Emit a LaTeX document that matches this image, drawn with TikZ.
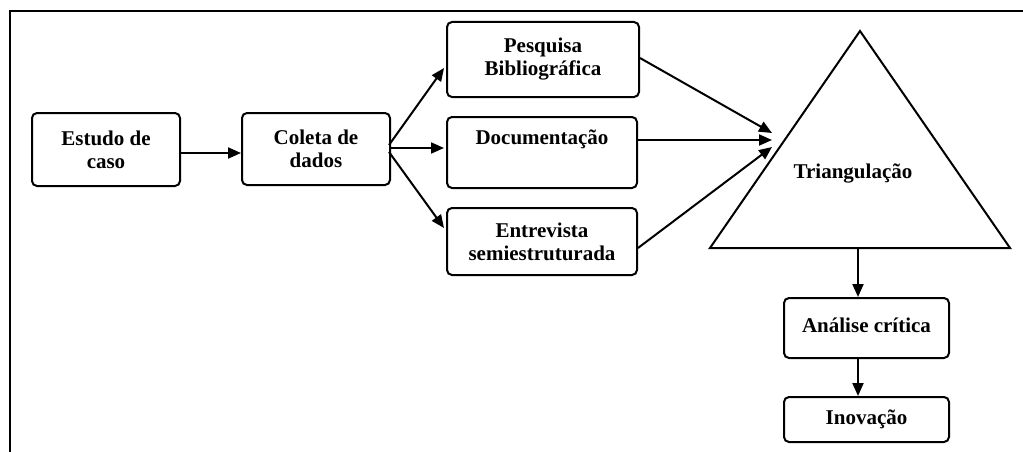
\documentclass[tikz,border=0pt]{standalone}
\usepackage{fontspec}
\setmainfont{Liberation Serif}
\usetikzlibrary{arrows.meta,calc}
\begin{document}
\begin{tikzpicture}[x=1pt,y=-1pt,
  box/.style={draw,line width=2pt,rounded corners=5pt,inner sep=0pt,align=center,
    font=\fontsize{21}{23}\selectfont\bfseries},
  arr/.style={line width=2pt,-{Triangle[length=13pt,width=11pt]}},
  frame/.style={line width=2pt}]
\useasboundingbox (0,0) rectangle (1023,452);
% frame
\coordinate (fa) at (9,11);
\coordinate (fb) at (1023,11);
\coordinate (fc) at (10,452);
\draw[frame] (fb) -- (fa |- fb) -- (10,11) -- (fc);
% boxes
\node[box,minimum width=148pt,minimum height=73pt] (estudo) at (106,149.5) {Estudo de\\caso};
\node[box,minimum width=148pt,minimum height=72pt] (coleta) at (316,149) {Coleta de\\dados};
\node[box,minimum width=192pt,minimum height=75pt] (pesq) at (543,59.5) {Pesquisa\\Bibliográfica};
\node[box,minimum width=190pt,minimum height=71pt] (doc) at (542,152.5) {Documentação\\\strut};
\node[box,minimum width=190pt,minimum height=67pt] (entr) at (542,241.5) {Entrevista\\semiestruturada};
\node[box,minimum width=165pt,minimum height=60pt] (anal) at (866.5,328) {\raisebox{5pt}{Análise crítica}};
\node[box,minimum width=165pt,minimum height=45pt] (inov) at (866.5,419.5) {Inovação};
% triangle
\coordinate (tl) at (710,248);
\coordinate (ta) at (860,31);
\coordinate (tr) at (1010,248);
\draw[line width=2pt,line join=miter] (tl) -- (ta) -- (tr) -- cycle;
\node[font=\fontsize{21}{23}\selectfont\bfseries] (tri) at (853,174) {Triangulação};
\coordinate (t1) at (772,133);
\coordinate (t2) at (772,140);
\coordinate (t3) at (772,147);
\coordinate (tb) at (858,248);
% arrows
\draw[arr] ($(estudo.east)+(0,3.5)$) -- ($(coleta.west)+(0,4)$);
\draw[arr] ($(coleta.east)+(-2,-4)$) -- ($(pesq.west)+(-2,8.5)$);
\draw[arr] ($(coleta.east)+(-2,-1)$) -- ($(doc.west)+(-2,-4.5)$);
\draw[arr] ($(coleta.east)+(-2,3)$) -- ($(entr.west)+(-2,-13.5)$);
\draw[arr] ($(pesq.east)+(0,-1.5)$) -- (t1);
\draw[arr] ($(doc.east)+(0,-12.5)$) -- (t2);
\draw[arr] ($(entr.east)+(0,6.5)$) -- (t3);
\draw[arr] (tb) -- (tb |- anal.north);
\draw[arr] (tb |- anal.south) -- (tb |- inov.north);
\end{tikzpicture}
\end{document}
